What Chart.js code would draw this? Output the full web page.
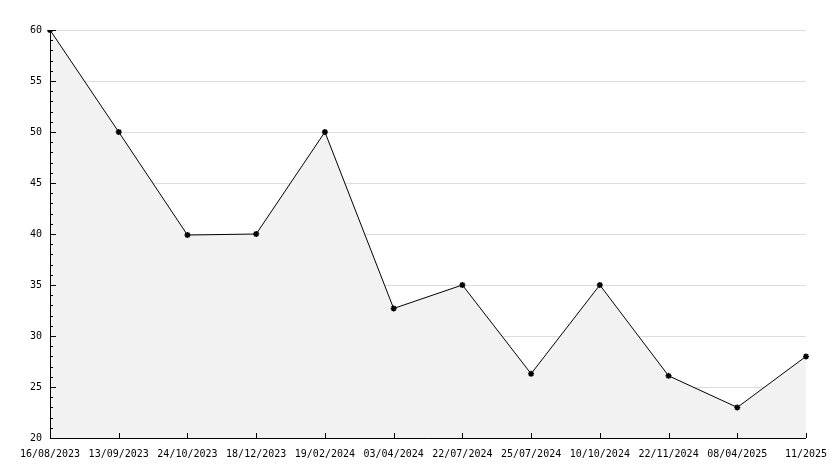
<!DOCTYPE html><html><head><style>body{margin:0;background:#fff}#w{width:834px;height:468px}</style>
<script src="https://cdn.jsdelivr.net/npm/chart.js@4"></script></head><body><div id="w"><canvas id="c"></canvas></div><script>
const labels=["16/08/2023","13/09/2023","24/10/2023","18/12/2023","19/02/2024","03/04/2024","22/07/2024","25/07/2024","10/10/2024","22/11/2024","08/04/2025","11/2025"];
const values=[60,50,39.9,40,50,32.7,35,26.3,35,26.1,23,28];
const yTicks=[20,25,30,35,40,45,50,55,60];
const inTicks={id:'in',afterDatasetsDraw(ch){const c=ch.ctx,x=ch.scales.x,y=ch.scales.y,a=ch.chartArea;c.save();c.strokeStyle='#000';c.lineWidth=1;c.beginPath();
for(let v=20;v<=60;v++){const p=Math.round(y.getPixelForValue(v))+0.5;const l=v%5===0?6:3;c.moveTo(a.left,p);c.lineTo(a.left+l,p);}
labels.forEach((_,i)=>{const p=Math.round(x.getPixelForValue(i))+0.5;c.moveTo(p,a.bottom);c.lineTo(p,a.bottom-5);});
c.moveTo(a.left+0.5,a.top);c.lineTo(a.left+0.5,a.bottom+0.5);c.lineTo(a.right,a.bottom+0.5);c.stroke();c.restore();}};
new Chart(document.getElementById('c'),{type:'line',data:{labels,datasets:[{data:values,borderColor:'#000',borderWidth:1,fill:true,backgroundColor:'#f2f2f2',pointStyle:'star',pointRadius:3,pointBorderColor:'#000',pointBackgroundColor:'#000',pointBorderWidth:1.5,tension:0}]},
options:{responsive:true,maintainAspectRatio:false,animation:false,layout:{padding:{left:0,right:28,top:30,bottom:6}},plugins:{legend:{display:false},tooltip:{enabled:false}},
scales:{x:{offset:false,grid:{display:false},border:{display:false},ticks:{color:'#000',font:{family:'DejaVu Sans Mono',size:10},maxRotation:0,autoSkip:false,padding:2}},
y:{min:20,max:60,afterFit(s){s.width=50;},afterBuildTicks(s){s.ticks=yTicks.map(v=>({value:v}));},grid:{color:'#dcdcdc',drawTicks:false},border:{display:false},ticks:{color:'#000',font:{family:'DejaVu Sans Mono',size:10},padding:8}}}},plugins:[inTicks]});
</script></body></html>
